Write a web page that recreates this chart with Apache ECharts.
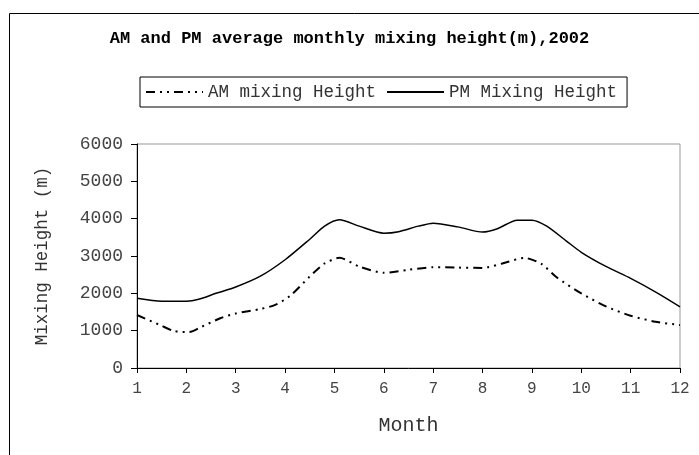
<!DOCTYPE html>
<html>
<head>
<meta charset="utf-8">
<script src="https://cdn.jsdelivr.net/npm/echarts@6/dist/echarts.min.js"></script>
<style>
  html, body { margin: 0; padding: 0; background: #fff; }
  #chart { width: 699px; height: 455px; }
</style>
</head>
<body>
<div id="chart"></div>
<script>
// values (month, metres)
const amMonths = [1.0, 1.5, 1.75, 2.05, 2.3, 2.7, 3.0, 3.5, 3.8, 4.1, 4.5, 4.8, 5.1, 5.5, 6.0, 6.5, 7.0, 7.5, 8.0, 8.4, 8.85, 9.2, 9.5, 10.0, 10.5, 11.0, 11.5, 12.0];
const amHeight = [1420, 1130, 990, 960, 1100, 1340, 1460, 1580, 1690, 1930, 2450, 2800, 2950, 2720, 2550, 2630, 2700, 2690, 2680, 2800, 2950, 2780, 2430, 2000, 1650, 1400, 1240, 1150];

const pmMonths = [1.0, 1.5, 2.0, 2.25, 2.6, 3.0, 3.5, 4.0, 4.5, 4.8, 5.1, 5.5, 6.0, 6.3, 6.7, 7.0, 7.5, 8.0, 8.3, 8.7, 9.0, 9.3, 9.7, 10.0, 10.5, 11.0, 11.5, 12.0];
const pmHeight = [1870, 1790, 1790, 1840, 2000, 2170, 2460, 2900, 3450, 3800, 3970, 3800, 3610, 3650, 3800, 3880, 3780, 3640, 3730, 3960, 3960, 3800, 3400, 3100, 2720, 2400, 2040, 1640];

const font = "'Liberation Mono', 'Courier New', monospace";

const chart = echarts.init(document.getElementById('chart'));

const option = {
    backgroundColor: '#fff',
    animation: false,
    title: {
        text: 'AM and PM average monthly mixing height(m),2002',
        left: 'center',
        top: 25,
        textStyle: { fontFamily: font, fontSize: 17, fontWeight: 'bold', color: '#000' }
    },
    legend: {
        left: 140,
        top: 77,
        itemWidth: 57,
        itemHeight: 14,
        itemGap: 10,
        padding: [6, 10, 6, 5],
        borderColor: '#000',
        borderWidth: 1,
        itemStyle: { opacity: 0 },
        textStyle: { fontFamily: font, fontSize: 17.5, color: '#333' },
        data: ['AM mixing Height', 'PM Mixing Height']
    },
    graphic: [{
        type: 'rect',
        left: 7,
        top: 11,
        shape: { width: 720, height: 480 },
        style: { fill: 'none', stroke: '#000', lineWidth: 1 },
        silent: true
    }],
    grid: {
        left: 137,
        right: 19,
        top: 144,
        bottom: 87,
        show: true,
        borderColor: '#999',
        borderWidth: 1
    },
    xAxis: {
        type: 'value',
        min: 1,
        max: 12,
        interval: 1,
        name: 'Month',
        nameLocation: 'middle',
        nameGap: 48,
        nameTextStyle: { fontFamily: font, fontSize: 20, color: '#333' },
        axisLine: { lineStyle: { color: '#000' } },
        axisTick: { show: true, length: 5, lineStyle: { color: '#000' } },
        axisLabel: { fontFamily: font, fontSize: 16, color: '#444', margin: 13 },
        splitLine: { show: false }
    },
    yAxis: {
        type: 'value',
        min: 0,
        max: 6000,
        interval: 1000,
        name: 'Mixing Height (m)',
        nameLocation: 'middle',
        nameGap: 86,
        nameTextStyle: { fontFamily: font, fontSize: 17.5, color: '#333' },
        axisLine: { show: true, lineStyle: { color: '#000' } },
        axisTick: { show: true, length: 6, lineStyle: { color: '#000' } },
        axisLabel: { fontFamily: font, fontSize: 18, color: '#444', margin: 14, formatter: v => String(v) },
        splitLine: { show: false }
    },
    series: [
        {
            name: 'AM mixing Height',
            type: 'line',
            data: amMonths.map((m, i) => [m, amHeight[i]]),
            smooth: 0.25,
            symbol: 'none',
            lineStyle: { color: '#000', width: 2, type: [9, 5, 2, 5, 2, 5] },
            itemStyle: { color: '#000' }
        },
        {
            name: 'PM Mixing Height',
            type: 'line',
            data: pmMonths.map((m, i) => [m, pmHeight[i]]),
            smooth: 0.25,
            symbol: 'none',
            lineStyle: { color: '#000', width: 1.5, type: 'solid' },
            itemStyle: { color: '#000' }
        }
    ]
};

chart.setOption(option);
</script>
</body>
</html>
